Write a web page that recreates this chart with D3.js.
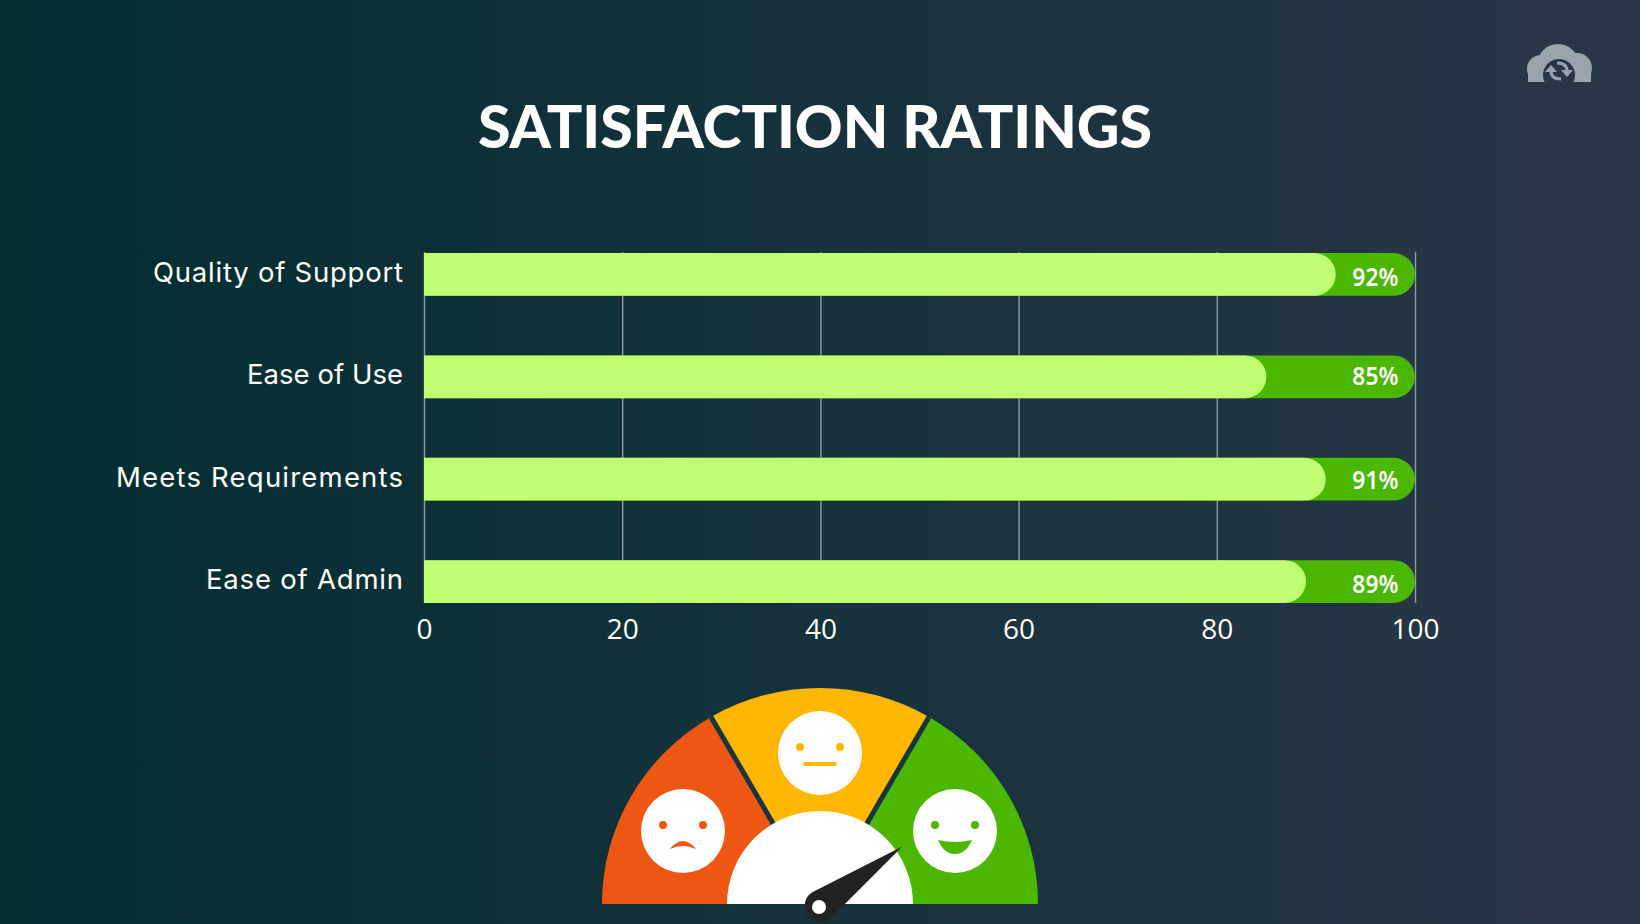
<!DOCTYPE html>
<html>
<head>
<meta charset="utf-8">
<script src="https://cdn.jsdelivr.net/npm/d3@7"></script>
<style>
html, body { margin: 0; padding: 0; background: #17343f; overflow: hidden; }
svg { display: block; }
.tick line { stroke: #8f9ba3; stroke-width: 1.4; }
.domain { display: none; }
</style>
</head>
<body>
<div id="chart"></div>
<script>
// data
var categories = ["Quality of Support", "Ease of Use", "Meets Requirements", "Ease of Admin"];
var ratings = [92, 85, 91, 89];
var xTicks = [0, 20, 40, 60, 80, 100];
var trackMax = 100;

// gauge
var moodNames = ["unhappy", "neutral", "happy"];
var moodShares = [1, 1, 1];
var moodColors = ["#ee5713", "#ffb703", "#4cb700"];
var needleRating = 80;

// label fitting, no web fonts here
var labelWidths = [250, 156, 287, 197];
var valueShift = [2, -2, 0, 1];

var w = 1640;
var h = 924;

var svg = d3.select("#chart")
    .append("svg")
    .attr("width", w)
    .attr("height", h);

var defs = svg.append("defs");

// background
var grad = defs.append("linearGradient")
    .attr("id", "bg")
    .attr("x1", "0%").attr("x2", "100%")
    .attr("y1", "0%").attr("y2", "0%");
grad.append("stop").attr("offset", "0%").attr("stop-color", "#022e30");
grad.append("stop").attr("offset", "100%").attr("stop-color", "#2a3647");

svg.append("rect")
    .attr("width", w)
    .attr("height", h)
    .attr("fill", "url(#bg)");

// title
svg.append("text")
    .text("SATISFACTION RATINGS")
    .attr("x", 815)
    .attr("y", 148)
    .attr("text-anchor", "middle")
    .attr("font-family", "Lato")
    .attr("font-weight", 900)
    .attr("font-size", "59px")
    .attr("textLength", 674)
    .attr("lengthAdjust", "spacing")
    .attr("fill", "white");

// scales
var xScale = d3.scaleLinear()
    .domain([0, 100])
    .range([424, 1415]);

var yScale = d3.scaleBand()
    .domain(categories)
    .range([253, 603])
    .paddingInner(0.5814)
    .paddingOuter(0);

var barH = yScale.bandwidth();

// grid + x axis
var xaxis = d3.axisBottom(xScale)
    .tickValues(xTicks)
    .tickFormat(function(d) { return d; })
    .tickSize(-(603 - 252))
    .tickPadding(16);

var gx = svg.append("g")
    .attr("class", "x axis")
    .attr("transform", "translate(0,603)")
    .call(xaxis);

gx.selectAll("text")
    .attr("font-family", "Open Sans")
    .attr("font-size", "28px")
    .attr("fill", "white");

// y axis
var yaxis = d3.axisLeft(yScale)
    .tickSize(0)
    .tickPadding(21);

var gy = svg.append("g")
    .attr("class", "y axis")
    .attr("transform", "translate(424,0)")
    .call(yaxis);

gy.selectAll("text")
    .attr("font-family", "Inter")
    .attr("font-size", "27.5px")
    .attr("dy", "0.27em")
    .attr("textLength", function(d, i) { return labelWidths[i]; })
    .attr("fill", "white");

// flat on the left, round on the right
function rightRound(x0, x1, y, bh) {
    var r = bh / 2;
    return "M" + x0 + "," + y +
        "H" + (x1 - r) +
        "A" + r + "," + r + " 0 0 1 " + (x1 - r) + "," + (y + bh) +
        "H" + x0 + "Z";
}

svg.selectAll(".track")
    .data(categories)
    .enter()
    .append("path")
    .attr("class", "track")
    .attr("d", function(d) {
        return rightRound(xScale(0), xScale(trackMax), yScale(d), barH);
    })
    .attr("fill", "#4cb700");

svg.selectAll(".bar")
    .data(ratings)
    .enter()
    .append("path")
    .attr("class", "bar")
    .attr("d", function(d, i) {
        return rightRound(xScale(0), xScale(d), yScale(categories[i]), barH);
    })
    .attr("fill", "#c1ff72");

// value labels
svg.selectAll(".val")
    .data(ratings)
    .enter()
    .append("text")
    .attr("class", "val")
    .text(function(d) { return d + "%"; })
    .attr("x", xScale(96))
    .attr("y", function(d, i) { return yScale(categories[i]) + barH / 2 + 10 + valueShift[i]; })
    .attr("text-anchor", "middle")
    .attr("font-family", "Noto Sans")
    .attr("font-weight", 600)
    .attr("font-size", "26px")
    .attr("textLength", 46)
    .attr("lengthAdjust", "spacingAndGlyphs")
    .attr("fill", "white");

// gauge
var cx = 820;
var cy = 904;
var outerR = 218;
var innerR = 93;

var gauge = svg.append("g")
    .attr("transform", "translate(" + cx + "," + cy + ")");

var pie = d3.pie()
    .sort(null)
    .startAngle(-Math.PI / 2)
    .endAngle(Math.PI / 2);

var arc = d3.arc()
    .innerRadius(0)
    .outerRadius(outerR);

// reference dome is a touch flatter than a true half circle
var dome = gauge.append("g")
    .attr("transform", "scale(1,0.991)");

dome.selectAll(".slice")
    .data(pie(moodShares))
    .enter()
    .append("path")
    .attr("class", "slice")
    .attr("d", arc)
    .attr("fill", function(d, i) { return moodColors[i]; });

// dark gaps between the slices
dome.selectAll(".gap")
    .data(pie(moodShares).slice(1))
    .enter()
    .append("line")
    .attr("class", "gap")
    .attr("x2", function(d) { return (outerR + 2) * Math.sin(d.startAngle); })
    .attr("y2", function(d) { return -(outerR + 2) * Math.cos(d.startAngle); })
    .attr("stroke", "#17343f")
    .attr("stroke-width", 5);

gauge.append("path")
    .attr("d", d3.arc()
        .innerRadius(0)
        .outerRadius(innerR)
        .startAngle(-Math.PI / 2)
        .endAngle(Math.PI / 2)())
    .attr("fill", "white");

// faces
var faceAt = [[-137, -73], [0, -151], [135, -73]];

var faces = gauge.selectAll(".face")
    .data(moodNames)
    .enter()
    .append("g")
    .attr("class", "face")
    .attr("transform", function(d, i) {
        return "translate(" + faceAt[i][0] + "," + faceAt[i][1] + ")";
    });

faces.append("circle")
    .attr("r", 42)
    .attr("fill", "white");

faces.each(function(d, i) {
    var g = d3.select(this);
    [-20, 20].forEach(function(ex) {
        g.append("circle")
            .attr("cx", ex)
            .attr("cy", -6)
            .attr("r", 4)
            .attr("fill", moodColors[i]);
    });
});

faces.filter(function(d) { return d === "unhappy"; })
    .append("path")
    .attr("d", "M-13,18 Q0,2 13,18 Q0,12 -13,18Z")
    .attr("fill", moodColors[0]);

faces.filter(function(d) { return d === "neutral"; })
    .append("rect")
    .attr("x", -17)
    .attr("y", 9)
    .attr("width", 34)
    .attr("height", 4)
    .attr("rx", 2)
    .attr("fill", moodColors[1]);

faces.filter(function(d) { return d === "happy"; })
    .append("path")
    .attr("d", "M-17,9 Q0,13 17,9 Q11,23 0,23 Q-11,23 -17,9Z")
    .attr("fill", moodColors[2]);

// needle
var needleAngle = d3.scaleLinear()
    .domain([0, 100])
    .range([-90, 90]);

var needle = gauge.append("g")
    .attr("transform", "translate(-1,3) rotate(" + needleAngle(needleRating) + ")");

needle.append("path")
    .attr("d", "M0,-103 L15.5,-6 A16,16 0 1 1 -15.5,-6 Z")
    .attr("fill", "#222222");

gauge.append("circle")
    .attr("cx", -1)
    .attr("cy", 3)
    .attr("r", 7)
    .attr("fill", "white");

// logo
var logo = svg.append("g");
defs.append("clipPath").attr("id", "cloud")
    .append("rect")
    .attr("x", 1520).attr("y", 40)
    .attr("width", 80).attr("height", 42);

var logoCircles = [[1558, 65, 21], [1541, 69, 14], [1577, 68, 15]];
logo.append("g")
    .attr("clip-path", "url(#cloud)")
    .selectAll("circle")
    .data(logoCircles)
    .enter()
    .append("circle")
    .attr("cx", function(d) { return d[0]; })
    .attr("cy", function(d) { return d[1]; })
    .attr("r", function(d) { return d[2]; })
    .attr("fill", "#9aa3ac");

logo.append("rect")
    .attr("x", 1528).attr("y", 72)
    .attr("width", 63).attr("height", 10)
    .attr("fill", "#9aa3ac");

logo.append("circle")
    .attr("cx", 1559).attr("cy", 75).attr("r", 16)
    .attr("clip-path", "url(#cloud)")
    .attr("fill", "#2a3648");

logo.append("path")
    .attr("d", "M1551,71 Q1551,79 1561,79 M1567,71 Q1567,63 1557,63")
    .attr("fill", "none")
    .attr("stroke", "#9aa3ac")
    .attr("stroke-width", 3);

logo.append("path")
    .attr("d", "M1545,72 L1551,65 L1557,72Z M1561,70 L1573,70 L1567,77Z")
    .attr("fill", "#9aa3ac");
</script>
</body>
</html>
